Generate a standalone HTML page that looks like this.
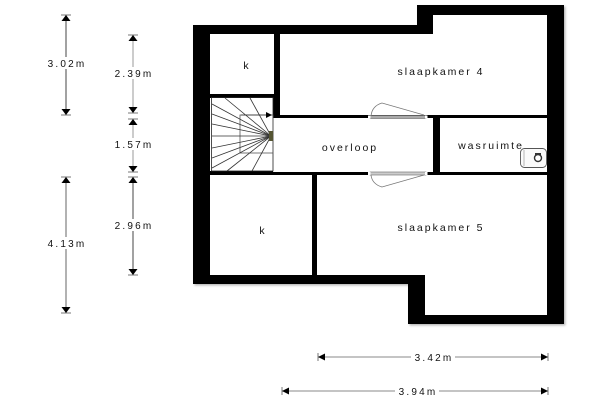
<!DOCTYPE html>
<html><head><meta charset="utf-8"><style>
html,body{margin:0;padding:0;background:#fff;}
svg{display:block;}
text{font-family:"Liberation Sans",Arial,sans-serif;font-size:10.5px;letter-spacing:2px;fill:#111;}
.d{font-size:10px;letter-spacing:2.2px;}
</style></head><body>
<svg width="600" height="400" viewBox="0 0 600 400" xmlns="http://www.w3.org/2000/svg">
<defs>
<filter id="sh" x="-5%" y="-5%" width="110%" height="110%">
<feDropShadow dx="1.5" dy="1.5" stdDeviation="1" flood-color="#888" flood-opacity="0.6"/>
</filter>
</defs>
<rect width="600" height="400" fill="#fff"/>
<!-- walls -->
<polygon filter="url(#sh)" fill="#000" points="193,25 417,25 417,5 564,5 564,324 408,324 408,284 193,284"/>
<!-- rooms -->
<rect x="210" y="34" width="64" height="60" fill="#fff"/>
<polygon fill="#fff" points="280,34 433,34 433,15 547,15 547,115 280,115"/>
<rect x="210" y="98" width="63" height="73" fill="#fff"/>
<rect x="273" y="118" width="160" height="54" fill="#fff"/>
<rect x="440" y="118" width="107" height="54" fill="#fff"/>
<rect x="210" y="175" width="102" height="100" fill="#fff"/>
<polygon fill="#fff" points="317,175 547,175 547,315 425,315 425,275 317,275"/>
<!-- stairs -->
<g stroke="#333" stroke-width="0.8" fill="none">
<rect x="211.5" y="97.5" width="61.5" height="73.5" stroke="#222"/>
<rect x="240" y="115" width="33" height="38" stroke="#555"/>
<line x1="271" y1="136" x2="225" y2="98"/>
<line x1="271" y1="136" x2="250" y2="98"/>
<line x1="271" y1="136" x2="212" y2="104"/>
<line x1="271" y1="136" x2="212" y2="114"/>
<line x1="271" y1="136" x2="212" y2="124"/>
<line x1="271" y1="136" x2="212" y2="136"/>
<line x1="271" y1="136" x2="212" y2="148"/>
<line x1="271" y1="136" x2="212" y2="158"/>
<line x1="271" y1="136" x2="212" y2="168"/>
<line x1="271" y1="136" x2="227" y2="171"/>
<line x1="271" y1="136" x2="252" y2="171"/>
</g>
<rect x="269" y="131" width="4" height="10" fill="#553"/>
<line x1="241" y1="115" x2="266" y2="115" stroke="#333" stroke-width="0.8"/>
<polygon points="266,112 272,115 266,118" fill="#000"/>
<!-- doors -->
<g fill="none" stroke="#777" stroke-width="0.8">
<path d="M371,116 Q372,106 382,103 L424,115"/>
<path d="M371,175 Q372,184 382,187 L424,175"/>
</g>
<rect x="370" y="115.5" width="56" height="3" fill="#aaa" stroke="#666" stroke-width="0.6"/>
<rect x="370" y="172" width="56" height="3" fill="#ccc" stroke="#666" stroke-width="0.6"/>
<rect x="368" y="115.5" width="2.5" height="3" fill="#fff"/>
<rect x="425" y="115.5" width="2.5" height="3" fill="#fff"/>
<rect x="368" y="172" width="2.5" height="3" fill="#fff"/>
<rect x="425" y="172" width="2.5" height="3" fill="#fff"/>
<!-- washer -->
<rect x="520.5" y="148.5" width="26" height="19" rx="4" fill="#fafafa" stroke="#555" stroke-width="0.9"/>
<line x1="524" y1="150" x2="524" y2="166" stroke="#888" stroke-width="0.6"/>
<circle cx="538" cy="158" r="3.5" fill="#fff" stroke="#333" stroke-width="1.4"/>
<rect x="535" y="153" width="6" height="2" fill="#333"/>
<!-- room labels -->
<text x="247" y="69" text-anchor="middle">k</text>
<text x="441" y="75" text-anchor="middle">slaapkamer 4</text>
<text x="350" y="151" text-anchor="middle">overloop</text>
<text x="491" y="149" text-anchor="middle">wasruimte</text>
<text x="263" y="234" text-anchor="middle">k</text>
<text x="441" y="231" text-anchor="middle">slaapkamer 5</text>
<!-- vertical dimension lines -->
<g stroke-width="1">
<line x1="66" y1="15" x2="66" y2="115" stroke="#444"/>
<line x1="133" y1="35" x2="133" y2="113" stroke="#999"/>
<line x1="133" y1="119" x2="133" y2="172" stroke="#999"/>
<line x1="133" y1="177" x2="133" y2="275" stroke="#444"/>
<line x1="66" y1="177" x2="66" y2="313" stroke="#666"/>
</g>
<g stroke="#555" stroke-width="0.8">
<line x1="61" y1="15" x2="71" y2="15"/><line x1="61" y1="115" x2="71" y2="115"/>
<line x1="128" y1="35" x2="138" y2="35"/><line x1="128" y1="113" x2="138" y2="113"/>
<line x1="128" y1="119" x2="138" y2="119"/><line x1="128" y1="172" x2="138" y2="172"/>
<line x1="128" y1="177" x2="138" y2="177"/><line x1="128" y1="275" x2="138" y2="275"/>
<line x1="61" y1="177" x2="71" y2="177"/><line x1="61" y1="313" x2="71" y2="313"/>
</g>
<g fill="#000">
<polygon points="66,15 61.5,21 70.5,21"/><polygon points="66,115 61.5,109 70.5,109"/>
<polygon points="133,35 128.5,41 137.5,41"/><polygon points="133,113 128.5,107 137.5,107"/>
<polygon points="133,119 128.5,125 137.5,125"/><polygon points="133,172 128.5,166 137.5,166"/>
<polygon points="133,177 128.5,183 137.5,183"/><polygon points="133,275 128.5,269 137.5,269"/>
<polygon points="66,177 61.5,183 70.5,183"/><polygon points="66,313 61.5,307 70.5,307"/>
</g>
<!-- horizontal dimension lines -->
<line x1="318" y1="357" x2="548" y2="357" stroke="#888"/>
<line x1="282" y1="391" x2="548" y2="391" stroke="#888"/>
<g stroke="#555" stroke-width="0.8">
<line x1="318" y1="353" x2="318" y2="361"/><line x1="548" y1="353" x2="548" y2="361"/>
<line x1="282" y1="387" x2="282" y2="395"/><line x1="548" y1="387" x2="548" y2="395"/>
</g>
<g fill="#000">
<polygon points="318,357 325,353.5 325,360.5"/><polygon points="548,357 541,353.5 541,360.5"/>
<polygon points="282,391 289,387.5 289,394.5"/><polygon points="548,391 541,387.5 541,394.5"/>
</g>
<!-- dimension labels with white backgrounds -->
<g fill="#fff">
<rect x="45" y="57" width="42" height="12"/>
<rect x="112" y="67" width="42" height="12"/>
<rect x="112" y="138" width="42" height="12"/>
<rect x="112" y="219" width="42" height="12"/>
<rect x="45" y="237" width="42" height="12"/>
<rect x="411" y="351" width="44" height="12"/>
<rect x="395" y="385" width="44" height="12"/>
</g>
<text class="d" x="67" y="67" text-anchor="middle">3.02m</text>
<text class="d" x="134" y="77" text-anchor="middle">2.39m</text>
<text class="d" x="134" y="148" text-anchor="middle">1.57m</text>
<text class="d" x="134" y="229" text-anchor="middle">2.96m</text>
<text class="d" x="67" y="247" text-anchor="middle">4.13m</text>
<text class="d" x="434" y="361" text-anchor="middle">3.42m</text>
<text class="d" x="418" y="395" text-anchor="middle">3.94m</text>
</svg>
</body></html>
